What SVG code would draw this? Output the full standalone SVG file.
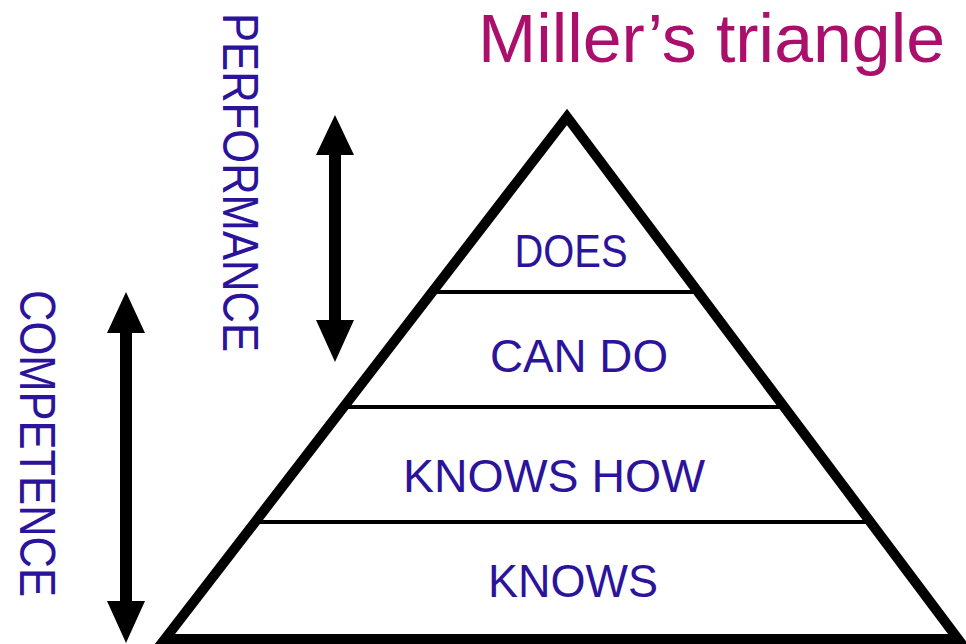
<svg xmlns="http://www.w3.org/2000/svg" width="966" height="644" viewBox="0 0 966 644">
<style>
.lbl{font-family:"Liberation Sans",Arial,sans-serif;fill:#2B139C;}
.tier{font-size:46px;text-anchor:middle;}
.side{font-size:50px;}
.arrow{fill:#000;}
</style>
<rect width="966" height="644" fill="#fff"/>
<text x="478" y="62" font-family="'Liberation Sans',Arial,sans-serif" font-size="68" fill="#AA0F6B" textLength="467" lengthAdjust="spacingAndGlyphs">Miller’s triangle</text>
<g id="pyramid">
<polygon points="567,117 958,639 165,639" fill="#fff" stroke="#000" stroke-width="10" stroke-linejoin="miter"/>
<line x1="432" y1="292" x2="698" y2="292" stroke="#000" stroke-width="4"/>
<line x1="344" y1="407" x2="784" y2="407" stroke="#000" stroke-width="4"/>
<line x1="255" y1="522" x2="871" y2="522" stroke="#000" stroke-width="4"/>
</g>
<g id="does"><text class="lbl tier" x="571" y="267" textLength="113" lengthAdjust="spacingAndGlyphs">DOES</text></g>
<g id="cando"><text class="lbl tier" x="579" y="372" textLength="178" lengthAdjust="spacingAndGlyphs">CAN DO</text></g>
<g id="knowshow"><text class="lbl tier" x="554" y="492" textLength="302" lengthAdjust="spacingAndGlyphs">KNOWS HOW</text></g>
<g id="knows"><text class="lbl tier" x="573" y="597" textLength="170" lengthAdjust="spacingAndGlyphs">KNOWS</text></g>
<g id="performance"><text class="lbl side" transform="translate(223,13) rotate(90)" x="0" y="0" textLength="339" lengthAdjust="spacingAndGlyphs">PERFORMANCE</text></g>
<g id="competence"><text class="lbl side" transform="translate(20,290) rotate(90)" x="0" y="0" textLength="307" lengthAdjust="spacingAndGlyphs">COMPETENCE</text></g>
<g id="connectors">
<path class="arrow" d="M335,115 L354,155 L341,155 L341,320 L354,320 L335,362 L316,320 L329,320 L329,155 L316,155 Z"/>
<path class="arrow" d="M126,292 L145,333 L132,333 L132,601 L145,601 L126,643 L107,601 L120,601 L120,333 L107,333 Z"/>
</g>
</svg>
